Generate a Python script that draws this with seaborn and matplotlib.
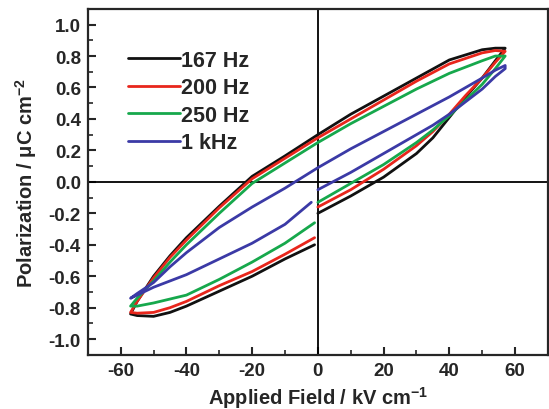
import numpy as np
import pandas as pd
import matplotlib
matplotlib.use("Agg")
import matplotlib.pyplot as plt
import seaborn as sns
from matplotlib.ticker import MultipleLocator

# ---- data ----
labels = ["167 Hz", "200 Hz", "250 Hz", "1 kHz"]
colors = ["#111111", "#e8261c", "#16a84c", "#3b3aa6"]

# lower-right branch (0 -> +Emax), upper branch (+Emax -> -Emax), lower-left branch (-Emax -> ~0)
e_lr = [0, 10, 20, 30, 35, 40, 45, 50, 54, 57]
e_up = [57, 54, 50, 40, 30, 20, 10, 0, -10, -20, -30, -40, -45, -50, -55, -57]
e_ll = [-57, -55, -50, -45, -40, -30, -20, -10, -1]

p167_lr = [-0.20, -0.09, 0.03, 0.18, 0.28, 0.41, 0.54, 0.66, 0.77, 0.85]
p167_up = [0.85, 0.85, 0.84, 0.775, 0.66, 0.545, 0.43, 0.30, 0.165, 0.035, -0.155, -0.355, -0.47, -0.60, -0.76, -0.84]
p167_ll = [-0.84, -0.85, -0.855, -0.83, -0.79, -0.695, -0.60, -0.49, -0.40]

p200_lr = [-0.16, -0.05, 0.08, 0.23, 0.32, 0.43, 0.55, 0.66, 0.76, 0.83]
p200_up = [0.83, 0.835, 0.82, 0.75, 0.64, 0.52, 0.40, 0.28, 0.15, 0.02, -0.165, -0.37, -0.48, -0.61, -0.76, -0.83]
p200_ll = [-0.83, -0.835, -0.83, -0.80, -0.76, -0.66, -0.57, -0.46, -0.355]

p250_lr = [-0.13, -0.01, 0.11, 0.25, 0.33, 0.42, 0.52, 0.62, 0.72, 0.80]
p250_up = [0.80, 0.80, 0.77, 0.69, 0.59, 0.48, 0.37, 0.25, 0.12, -0.01, -0.20, -0.40, -0.51, -0.63, -0.74, -0.79]
p250_ll = [-0.79, -0.79, -0.77, -0.745, -0.72, -0.62, -0.51, -0.39, -0.26]

p1k_lr = [-0.05, 0.06, 0.18, 0.30, 0.36, 0.43, 0.51, 0.59, 0.67, 0.72]
p1k_up = [0.74, 0.71, 0.66, 0.54, 0.43, 0.32, 0.21, 0.09, -0.04, -0.16, -0.29, -0.45, -0.54, -0.64, -0.71, -0.74]
p1k_ll = [-0.74, -0.72, -0.67, -0.63, -0.59, -0.49, -0.39, -0.27, -0.13]
e_ll_1k = [-57, -55, -50, -45, -40, -30, -20, -10, -2]

series = {
    "167 Hz": (e_lr + e_up + e_ll, p167_lr + p167_up + p167_ll),
    "200 Hz": (e_lr + e_up + e_ll, p200_lr + p200_up + p200_ll),
    "250 Hz": (e_lr + e_up + e_ll, p250_lr + p250_up + p250_ll),
    "1 kHz": (e_lr + e_up + e_ll_1k, p1k_lr + p1k_up + p1k_ll),
}

rows = []
for lab in labels:
    es, ps = series[lab]
    for i, (e, p) in enumerate(zip(es, ps)):
        rows.append({"E": e, "P": p, "freq": lab, "idx": i})
df = pd.DataFrame(rows)

# ---- style ----
sns.set_style("ticks")
plt.rcParams["font.family"] = ["Liberation Sans", "DejaVu Sans"]
plt.rcParams["font.weight"] = "bold"
plt.rcParams["axes.unicode_minus"] = False
plt.rcParams["mathtext.fontset"] = "custom"
plt.rcParams["mathtext.rm"] = "Liberation Sans:bold"
plt.rcParams["mathtext.bf"] = "Liberation Sans:bold"
plt.rcParams["mathtext.default"] = "bf"

fig = plt.figure(figsize=(5.49, 4.10), dpi=100)
ax = fig.add_axes([0.160, 0.132, 0.838, 0.844])

ax.axhline(0, color="black", lw=1.3, zorder=1)
ax.axvline(0, color="black", lw=1.3, zorder=1)

sns.lineplot(data=df, x="E", y="P", hue="freq", hue_order=labels,
             palette=dict(zip(labels, colors)), sort=False, estimator=None,
             units="freq", lw=2.0, ax=ax, zorder=3)

ax.set_xlim(-70, 70)
ax.set_ylim(-1.1, 1.1)
ax.xaxis.set_major_locator(MultipleLocator(20))
ax.xaxis.set_minor_locator(MultipleLocator(10))
ax.yaxis.set_major_locator(MultipleLocator(0.2))
ax.yaxis.set_minor_locator(MultipleLocator(0.1))
ax.set_yticks(np.round(np.arange(-1.0, 1.01, 0.2), 1))
ax.set_xticks([-60, -40, -20, 0, 20, 40, 60])
ax.tick_params(which="major", direction="in", length=6, width=1.5, labelsize=13.5, pad=5)
ax.tick_params(which="minor", direction="in", length=3.5, width=1.2)
for lab in ax.get_xticklabels() + ax.get_yticklabels():
    lab.set_fontweight("bold")
for s in ax.spines.values():
    s.set_linewidth(1.6)
    s.set_visible(True)

ax.set_xlabel("Applied Field / kV cm$^{-1}$", fontsize=14.5, fontweight="bold", labelpad=4)
ax.set_ylabel("Polarization / μC cm$^{-2}$", fontsize=14.5, fontweight="bold", labelpad=7)

leg = ax.legend(loc="upper left", bbox_to_anchor=(0.088, 0.881), frameon=False,
                fontsize=15.5, handlelength=2.4, handletextpad=0.05,
                labelspacing=0.3, borderpad=0, borderaxespad=0)
for t in leg.get_texts():
    t.set_fontweight("bold")
for h in leg.get_lines():
    h.set_linewidth(2.0)

fig.savefig("out.png", dpi=100, facecolor="white")
